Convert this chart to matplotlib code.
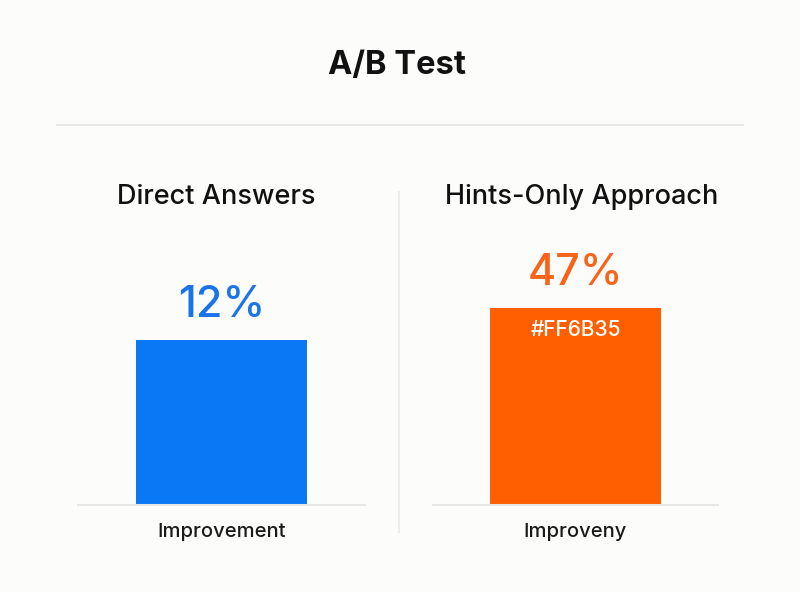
import matplotlib
matplotlib.use("Agg")
import matplotlib.pyplot as plt

# ── Data
title = "A/B Test"
groups = ["Direct Answers", "Hints-Only Approach"]
value_labels = ["12%", "47%"]
bar_heights = [0.84, 1.0]          # drawn bar heights, relative to the tallest bar
bar_notes = ["", "#FF6B35"]
axis_labels = ["Improvement", "Improveny"]
bar_colors = ["#0A78F5", "#FF5F00"]
text_colors = ["#1A74E8", "#F7641A"]

W, H = 800, 592
plt.rcParams["font.family"] = ["Inter", "DejaVu Sans"]

fig = plt.figure(figsize=(W / 100, H / 100), dpi=100, facecolor="#fcfcfb")


def fx(x):
    return x / W


def fy(y):
    return 1 - y / H


fig.text(fx(397), fy(66), title, ha="center", va="center",
         fontsize=23.5, fontweight="bold", color="#111111")
fig.add_artist(plt.Line2D([fx(57), fx(743)], [fy(125), fy(125)], color="#e8e8e8", lw=1.5))
fig.add_artist(plt.Line2D([fx(399), fx(399)], [fy(192), fy(532)], color="#ececec", lw=1.5))

# panel layout in pixels: axes left, axes right, heading centre
panels = [(78, 365, 216), (433, 718, 582)]
base_y, top_y = 505, 250
bar_px = 171
unit_px = 197

for i, (x0, x1, tx) in enumerate(panels):
    ax = fig.add_axes([fx(x0), fy(base_y), (x1 - x0) / W, (base_y - top_y) / H])
    ax.set_facecolor("none")
    ax.bar([0], [bar_heights[i]], width=bar_px / (x1 - x0), color=bar_colors[i])
    ax.set_xlim(-0.5, 0.5)
    ax.set_ylim(0, (base_y - top_y) / unit_px)
    ax.set_yticks([])
    ax.set_xticks([0])
    ax.set_xticklabels([axis_labels[i]], fontsize=14.5, color="#1a1a1a", fontweight="medium")
    ax.tick_params(axis="x", length=0, pad=13)
    for side in ["top", "left", "right"]:
        ax.spines[side].set_visible(False)
    ax.spines["bottom"].set_color("#e6e6e6")
    ax.spines["bottom"].set_linewidth(1.5)

    ax.annotate(value_labels[i], (0, bar_heights[i]), xytext=(0, 10),
                textcoords="offset points", ha="center", va="bottom",
                fontsize=31, fontweight="medium", color=text_colors[i],
                annotation_clip=False)
    if bar_notes[i]:
        ax.annotate(bar_notes[i], (0, bar_heights[i]), xytext=(0, -16),
                    textcoords="offset points", ha="center", va="center",
                    fontsize=15, fontweight="medium", color="white")

    fig.text(fx(tx), fy(197), groups[i], ha="center", va="center",
             fontsize=19.5, fontweight="medium", color="#111111")

fig.savefig("out.png", dpi=100, facecolor=fig.get_facecolor())
